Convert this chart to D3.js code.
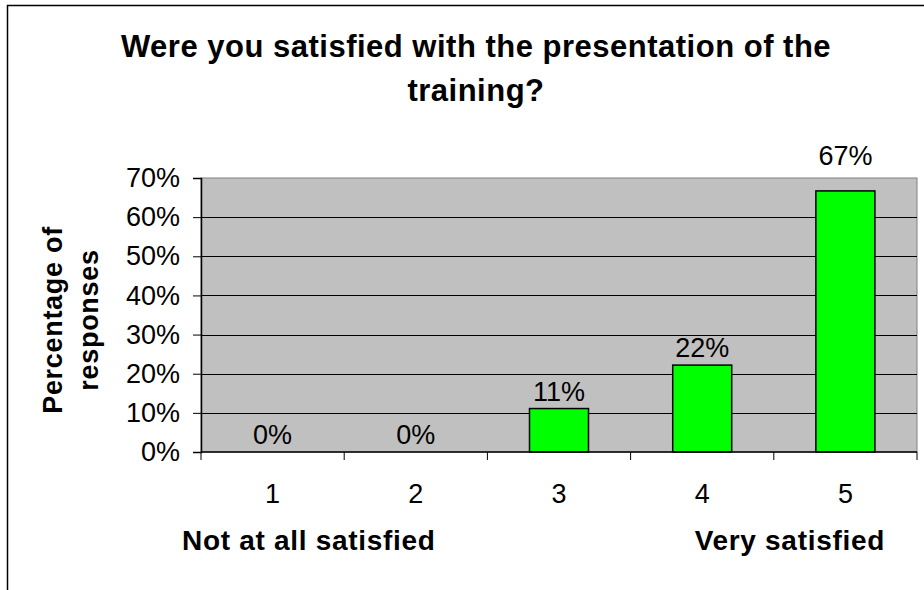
<!DOCTYPE html>
<html>
<head>
<meta charset="utf-8">
<script src="https://cdn.jsdelivr.net/npm/d3@7"></script>
<style>
  body { margin: 0; background: #fff; }
  text { font-family: "Liberation Sans", Arial, sans-serif; fill: #000; }
</style>
</head>
<body>
<script>
// Chart data
var categories = ["1", "2", "3", "4", "5"];
var values = [0, 0, 11.1, 22.2, 66.7];
var yTicks = [0, 10, 20, 30, 40, 50, 60, 70];
var titleLines = ["Were you satisfied with the presentation of the", "training?"];
var yTitleLines = ["Percentage of", "responses"];
var xLowLabel = "Not at all satisfied";
var xHighLabel = "Very satisfied";

// Dimensions
var W = 924, H = 590;
var plot = { left: 201, top: 178, right: 917, bottom: 452 };

var svg = d3.select("body")
    .append("svg")
    .attr("width", W)
    .attr("height", H);

// Chart area border (runs off the right and bottom edge)
svg.append("rect")
    .attr("x", 7.5)
    .attr("y", 5.5)
    .attr("width", 960)
    .attr("height", 620)
    .attr("fill", "#fff")
    .attr("stroke", "#000")
    .attr("stroke-width", 1.5);

// Scales
var x = d3.scaleBand()
    .domain(categories)
    .range([plot.left, plot.right])
    .paddingInner(0.588)
    .paddingOuter(0.294);

var y = d3.scaleLinear()
    .domain([0, 70])
    .range([plot.bottom, plot.top]);

// Plot area background
svg.append("rect")
    .attr("x", plot.left)
    .attr("y", plot.top)
    .attr("width", plot.right - plot.left)
    .attr("height", plot.bottom - plot.top)
    .attr("fill", "#c0c0c0")
    .attr("stroke", "#808080")
    .attr("stroke-width", 1);

// Gridlines
svg.append("g")
    .selectAll("line")
    .data(yTicks.filter(function (d) { return d > 0 && d < 70; }))
    .enter().append("line")
    .attr("x1", plot.left)
    .attr("x2", plot.right)
    .attr("y1", function (d) { return Math.round(y(d)) + 0.5; })
    .attr("y2", function (d) { return Math.round(y(d)) + 0.5; })
    .attr("stroke", "#000")
    .attr("stroke-width", 1);

// Bars
svg.append("g")
    .selectAll("rect")
    .data(values)
    .enter().append("rect")
    .attr("x", function (d, i) { return x(categories[i]); })
    .attr("y", function (d) { return y(d); })
    .attr("width", x.bandwidth())
    .attr("height", function (d) { return y(0) - y(d); })
    .attr("fill", "#00ff00")
    .attr("stroke", "#000")
    .attr("stroke-width", 1.5)
    .style("display", function (d) { return d > 0 ? null : "none"; });

// Data labels (lifted above the plot's top edge when they would touch it)
svg.append("g")
    .selectAll("text")
    .data(values)
    .enter().append("text")
    .attr("x", function (d, i) { return x(categories[i]) + x.bandwidth() / 2; })
    .attr("y", function (d) {
        var ly = y(d) - 8;
        return ly < plot.top + 10 ? plot.top - 13 : ly;
    })
    .attr("text-anchor", "middle")
    .style("font-size", "27px")
    .text(function (d) { return Math.round(d) + "%"; });

// Y axis
var yAxis = svg.append("g")
    .attr("transform", "translate(" + plot.left + ",0)")
    .call(d3.axisLeft(y)
        .tickValues(yTicks)
        .tickSize(8)
        .tickPadding(13)
        .tickFormat(function (d) { return d + "%"; }));
yAxis.select(".domain").attr("stroke", "#000").attr("stroke-width", 1.5);
yAxis.selectAll(".tick line").attr("stroke", "#000");
yAxis.selectAll(".tick text")
    .style("font-size", "27px")
    .style("font-family", "\"Liberation Sans\", Arial, sans-serif")
    .attr("fill", "#000");

// X axis (ticks between categories)
var xAxis = svg.append("g")
    .attr("transform", "translate(0," + plot.bottom + ")");
xAxis.append("line")
    .attr("x1", plot.left)
    .attr("x2", plot.right)
    .attr("stroke", "#000")
    .attr("stroke-width", 1.5);
var bounds = categories.map(function (c) { return x(c) - x.step() * x.paddingOuter(); });
bounds.push(plot.right);
xAxis.selectAll(".xtick")
    .data(bounds)
    .enter().append("line")
    .attr("class", "xtick")
    .attr("x1", function (d) { return d; })
    .attr("x2", function (d) { return d; })
    .attr("y1", 0)
    .attr("y2", 8)
    .attr("stroke", "#000");
xAxis.selectAll(".xlabel")
    .data(categories)
    .enter().append("text")
    .attr("class", "xlabel")
    .attr("x", function (d) { return x(d) + x.bandwidth() / 2; })
    .attr("y", 51)
    .attr("text-anchor", "middle")
    .style("font-size", "27px")
    .text(function (d) { return d; });

// X axis end labels
svg.append("text")
    .attr("x", 182)
    .attr("y", 550)
    .style("font-size", "28px")
    .style("font-weight", "bold")
    .style("letter-spacing", "0.7px")
    .text(xLowLabel);

svg.append("text")
    .attr("x", 885)
    .attr("y", 550)
    .attr("text-anchor", "end")
    .style("font-size", "28px")
    .style("font-weight", "bold")
    .style("letter-spacing", "0.7px")
    .text(xHighLabel);

// Y axis title
var yTitle = svg.append("text")
    .attr("transform", "translate(0,320) rotate(-90)")
    .attr("text-anchor", "middle")
    .style("font-size", "27px")
    .style("font-weight", "bold")
    .style("letter-spacing", "0.7px");
yTitle.selectAll("tspan")
    .data(yTitleLines)
    .enter().append("tspan")
    .attr("x", 0)
    .attr("y", function (d, i) { return 62 + i * 36; })
    .text(function (d) { return d; });

// Title
var title = svg.append("text")
    .attr("text-anchor", "middle")
    .style("font-size", "31px")
    .style("font-weight", "bold")
    .style("letter-spacing", "0.5px");
title.selectAll("tspan")
    .data(titleLines)
    .enter().append("tspan")
    .attr("x", 476)
    .attr("y", function (d, i) { return 57 + i * 44; })
    .text(function (d) { return d; });
</script>
</body>
</html>
